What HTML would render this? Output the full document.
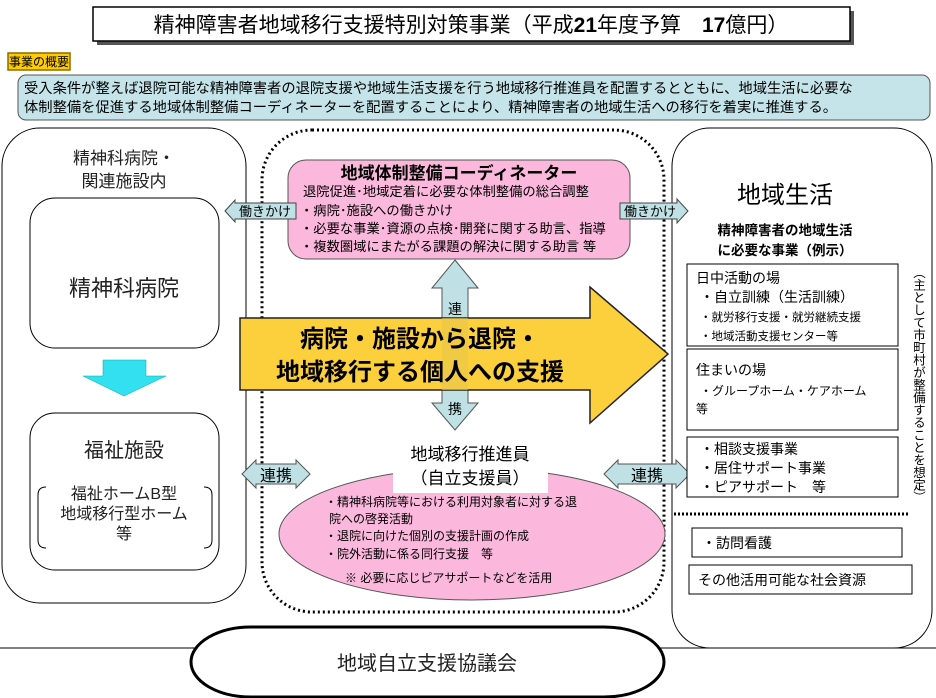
<!DOCTYPE html>
<html><head><meta charset="utf-8"><style>
html,body{margin:0;padding:0;background:#fff;}
svg{display:block;font-family:"Liberation Sans","Noto Sans CJK JP",sans-serif;}
</style></head><body>
<svg width="936" height="698" viewBox="0 0 936 698" xmlns="http://www.w3.org/2000/svg">
<!-- title -->
<rect x="97" y="11" width="757" height="34" fill="#555"/>
<rect x="93" y="7" width="757" height="34" fill="#fff" stroke="#000" stroke-width="1.5"/>
<text x="471" y="32" font-size="21" text-anchor="middle">精神障害者地域移行支援特別対策事業（平成<tspan font-weight="bold">21</tspan>年度予算　<tspan font-weight="bold">17</tspan>億円）</text>
<!-- overview tag -->
<rect x="8" y="53" width="62" height="17" fill="#ffcc00" stroke="#8a6d00" stroke-width="1.5"/>
<text x="39" y="66" font-size="12" text-anchor="middle">事業の概要</text>
<rect x="18" y="75" width="912" height="45" rx="8" fill="#c5e4ea" stroke="#555"/>
<text x="24" y="93" font-size="14.3">受入条件が整えば退院可能な精神障害者の退院支援や地域生活支援を行う地域移行推進員を配置するとともに、地域生活に必要な</text>
<text x="24" y="112" font-size="14.3">体制整備を促進する地域体制整備コーディネーターを配置することにより、精神障害者の地域生活への移行を着実に推進する。</text>
<!-- left panel -->
<rect x="2" y="128" width="244" height="475" rx="38" fill="#fff" stroke="#000"/>
<text x="124" y="164" font-size="17" text-anchor="middle" fill="#222">精神科病院・</text>
<text x="124" y="187" font-size="17" text-anchor="middle" fill="#222">関連施設内</text>
<rect x="30" y="198" width="189" height="150" rx="25" fill="#fff" stroke="#000"/>
<text x="124" y="296" font-size="22" text-anchor="middle" fill="#222">精神科病院</text>
<polygon points="103,360 146,360 146,376 166,376 124,396 83,376 103,376" fill="#33e0f0" stroke="#0aa" stroke-width="0.5"/>
<rect x="30" y="413" width="189" height="157" rx="25" fill="#fff" stroke="#000"/>
<text x="124" y="457" font-size="20" text-anchor="middle" fill="#222">福祉施設</text>
<path d="M46,487 Q38,487 38,495 L38,540 Q38,548 46,548 M204,487 Q212,487 212,495 L212,540 Q212,548 204,548" fill="none" stroke="#000"/>
<text x="124" y="499" font-size="16" text-anchor="middle" fill="#222">福祉ホームB型</text>
<text x="124" y="519" font-size="16" text-anchor="middle" fill="#222">地域移行型ホーム</text>
<text x="124" y="539" font-size="16" text-anchor="middle" fill="#222">等</text>
<!-- right panel -->
<rect x="672" y="128" width="260" height="520" rx="38" fill="#fff" stroke="#000"/>
<!-- center dotted -->
<rect x="262" y="130" width="402" height="482" rx="50" fill="none" stroke="#000" stroke-width="3" stroke-dasharray="2,3"/>
<!-- coordinator -->
<rect x="288" y="160" width="342" height="99" rx="18" fill="#fbb8dc" stroke="#555"/>
<text x="459" y="179" font-size="17" font-weight="bold" text-anchor="middle">地域体制整備コーディネーター</text>
<text x="303" y="196" font-size="13.3">退院促進･地域定着に必要な体制整備の総合調整</text>
<text x="300" y="215" font-size="13.3">・病院･施設への働きかけ</text>
<text x="300" y="233" font-size="13.3">・必要な事業･資源の点検･開発に関する助言、指導</text>
<text x="300" y="251" font-size="13.3">・複数圏域にまたがる課題の解決に関する助言 等</text>
<!-- hatarakikake arrows -->
<polygon points="225,211 235,200 235,203 296,203 296,219 235,219 235,222" fill="#bfe0e4" stroke="#444"/>
<text x="265" y="216" font-size="13" text-anchor="middle">働きかけ</text>
<polygon points="620,203 677,203 677,199 688,211 677,223 677,219 620,219" fill="#bfe0e4" stroke="#444"/>
<text x="650" y="216" font-size="13" text-anchor="middle">働きかけ</text>
<!-- vertical arrow -->
<polygon points="455,260 478,288 468,288 468,403 478,403 455,430 432,403 442,403 442,288 432,288" fill="#bfe0e4" stroke="#555"/>
<!-- big yellow arrow -->
<polygon points="240,318 590,318 590,287 668,354 590,423 590,390 240,390" fill="#fcd03c" stroke="#222" stroke-width="1.5"/>
<rect x="442" y="318" width="26" height="72" fill="#e8c64a" opacity="0.6"/>
<text x="455" y="314" font-size="14" text-anchor="middle">連</text>
<text x="455" y="414" font-size="14" text-anchor="middle">携</text>
<text x="420" y="347" font-size="24" font-weight="bold" text-anchor="middle">病院・施設から退院・</text>
<text x="420" y="380" font-size="24" font-weight="bold" text-anchor="middle">地域移行する個人への支援</text>
<!-- ellipse -->
<ellipse cx="472" cy="534" rx="193" ry="66" fill="#fbb8dc" stroke="#555"/>
<rect x="393" y="440" width="155" height="53" fill="#fff"/>
<text x="470" y="460" font-size="17" text-anchor="middle">地域移行推進員</text>
<text x="470" y="484" font-size="17" text-anchor="middle">（自立支援員）</text>
<text x="325" y="506" font-size="12">・精神科病院等における利用対象者に対する退</text>
<text x="329" y="523" font-size="12">院への啓発活動</text>
<text x="325" y="540" font-size="12">・退院に向けた個別の支援計画の作成</text>
<text x="325" y="558" font-size="12">・院外活動に係る同行支援　等</text>
<text x="345" y="582" font-size="12">※ 必要に応じピアサポートなどを活用</text>
<!-- renkei arrows -->
<polygon points="242,474 256,460 256,464 296,464 296,460 310,474 296,488 296,484 256,484 256,488" fill="#bfe0e4" stroke="#555"/>
<text x="276" y="481" font-size="16" text-anchor="middle">連携</text>
<polygon points="604,474 618,460 618,464 676,464 676,460 690,474 676,488 676,484 618,484 618,488" fill="#bfe0e4" stroke="#555"/>
<text x="647" y="481" font-size="16" text-anchor="middle">連携</text>
<!-- right content -->
<text x="785" y="203" font-size="24" text-anchor="middle">地域生活</text>
<text x="785" y="235" font-size="13.5" font-weight="bold" text-anchor="middle">精神障害者の地域生活</text>
<text x="785" y="255" font-size="13.5" font-weight="bold" text-anchor="middle">に必要な事業（例示）</text>
<rect x="687" y="264" width="211" height="82" fill="#fff" stroke="#000"/>
<text x="696" y="283" font-size="14">日中活動の場</text>
<text x="700" y="302" font-size="14">・自立訓練（生活訓練）</text>
<text x="700" y="321" font-size="11.5">・就労移行支援・就労継続支援</text>
<text x="700" y="340" font-size="11.5">・地域活動支援センター等</text>
<rect x="687" y="349" width="211" height="81" fill="#fff" stroke="#000"/>
<text x="696" y="375" font-size="14">住まいの場</text>
<text x="700" y="395" font-size="12">・グループホーム・ケアホーム</text>
<text x="696" y="413" font-size="12">等</text>
<rect x="687" y="437" width="211" height="60" fill="#fff" stroke="#000"/>
<text x="700" y="454" font-size="14">・相談支援事業</text>
<text x="700" y="473" font-size="14">・居住サポート事業</text>
<text x="700" y="492" font-size="14">・ピアサポート　等</text>
<text x="918" y="266" font-size="12.5" style="writing-mode:vertical-rl">（主として市町村が整備することを想定）</text>
<line x1="674" y1="514" x2="908" y2="514" stroke="#000" stroke-width="3" stroke-dasharray="2,2"/>
<rect x="692" y="528" width="210" height="29" fill="#fff" stroke="#000"/>
<text x="702" y="548" font-size="14">・訪問看護</text>
<rect x="689" y="565" width="223" height="29" fill="#fff" stroke="#000"/>
<text x="698" y="585" font-size="14">その他活用可能な社会資源</text>
<!-- bottom -->
<line x1="0" y1="648" x2="936" y2="648" stroke="#000"/>
<rect x="191" y="627" width="473" height="70" rx="60" ry="35" fill="#fff" stroke="#000" stroke-width="3"/>
<text x="427" y="670" font-size="20" text-anchor="middle" fill="#222">地域自立支援協議会</text>
</svg>
</body></html>
